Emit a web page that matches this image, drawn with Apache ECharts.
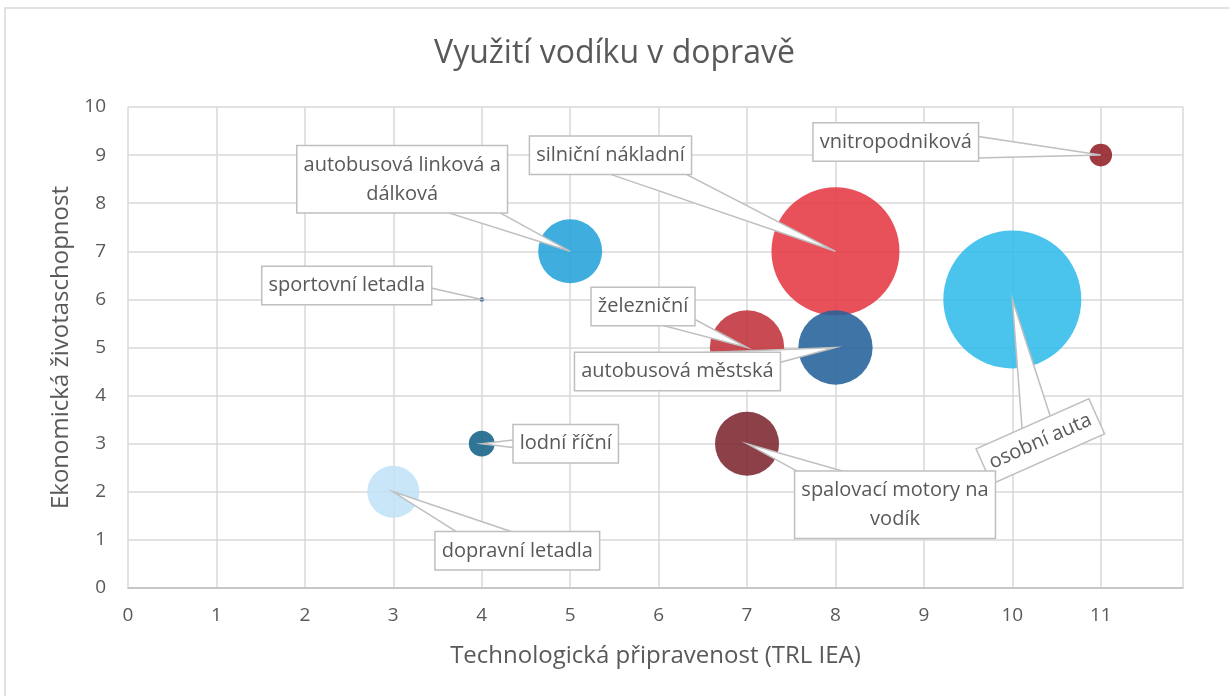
<!DOCTYPE html>
<html>
<head>
<meta charset="utf-8">
<script src="https://cdn.jsdelivr.net/npm/echarts@6/dist/echarts.min.js"></script>
<style>
  html, body { margin: 0; padding: 0; background: #fff; }
  #chart { width: 1229px; height: 696px; }
</style>
</head>
<body>
<div id="chart"></div>
<script>
  // data
  const categories = [
    'vnitropodniková',
    'osobní auta',
    'silniční nákladní',
    'autobusová linková a\ndálková',
    'sportovní letadla',
    'železniční',
    'autobusová městská',
    'lodní říční',
    'spalovací motory na\nvodík',
    'dopravní letadla'
  ];
  const trl = [11, 10, 8, 5, 4, 7, 8, 4, 7, 3];          // x
  const viability = [9, 6, 7, 7, 6, 5, 5, 3, 3, 2];     // y
  const bubbleSize = [2.7, 100, 86, 21.5, 0.1, 29, 29, 3.5, 21.5, 14.2];

  // styles
  const colors = ['#911f26', '#31bce9', '#e53843', '#24a3db', '#24507e',
                  '#c0323c', '#24619a', '#136188', '#7c262f', '#c1e3f7'];
  // callout box centre, offset from the bubble centre (px)
  const labelOffset = [
    [-205, -13], [28, 142], [-225, -96], [-168, -72], [-135, -14],
    [-104, -41], [-158, 24], [84, 0], [148, 61], [124, 59]
  ];
  const labelRotate = [0, 24, 0, 0, 0, 0, 0, 0, 0, 0];

  const textColor = '#595959';
  const boxBorder = '#bfbfbf';
  const font = '"Open Sans", "DejaVu Sans", sans-serif';

  const bubbleData = categories.map((name, i) => ({
    name: name,
    value: [trl[i], viability[i], bubbleSize[i]],
    itemStyle: { color: colors[i] }
  }));
  const calloutData = categories.map((name, i) => [trl[i], viability[i]]);

  const chart = echarts.init(document.getElementById('chart'));

  chart.setOption({
    animation: false,
    backgroundColor: '#fff',
    textStyle: { fontFamily: font },
    title: {
      text: 'Využití vodíku v dopravě',
      left: 'center',
      top: 33,
      textStyle: { color: textColor, fontSize: 32, fontWeight: 'normal', fontFamily: font }
    },
    graphic: [{
      type: 'rect',
      shape: { x: 5, y: 8, width: 1240, height: 700 },
      style: { fill: 'none', stroke: '#d9d9d9', lineWidth: 1.5 },
      silent: true
    }],
    grid: { left: 128, right: 46, top: 107, bottom: 108 },
    xAxis: {
      type: 'value',
      min: 0,
      max: 11.93,
      interval: 1,
      name: 'Technologická připravenost (TRL IEA)',
      nameLocation: 'middle',
      nameGap: 56,
      nameTextStyle: { color: textColor, fontSize: 24 },
      axisLine: { show: true, lineStyle: { color: '#bfbfbf', width: 1.5 } },
      axisTick: { show: false },
      axisLabel: { color: textColor, fontSize: 19, margin: 18, showMaxLabel: false },
      splitLine: { show: true, lineStyle: { color: '#d9d9d9', width: 1.5 } }
    },
    yAxis: {
      type: 'value',
      min: 0,
      max: 10,
      interval: 1,
      name: 'Ekonomická životaschopnost',
      nameLocation: 'middle',
      nameGap: 54,
      nameTextStyle: { color: textColor, fontSize: 24 },
      axisLine: { show: false },
      axisTick: { show: false },
      axisLabel: { color: textColor, fontSize: 19, margin: 22 },
      splitLine: { show: true, lineStyle: { color: '#d9d9d9', width: 1.5 } }
    },
    series: [
      {
        type: 'scatter',
        data: bubbleData,
        symbolSize: d => 2 * 69 * Math.sqrt(d[2] / 100),
        itemStyle: { opacity: 0.88 },
        z: 2
      },
      {
        // callout boxes with wedge pointing at the bubble centre
        type: 'custom',
        data: calloutData,
        clip: false,
        silent: true,
        z: 5,
        renderItem: (params, api) => {
          const i = params.dataIndex;
          const p = api.coord([api.value(0), api.value(1)]);
          const bx = p[0] + labelOffset[i][0];
          const by = p[1] + labelOffset[i][1];
          const dx = bx - p[0];
          const dy = by - p[1];
          const len = Math.sqrt(dx * dx + dy * dy);
          const hw = Math.min(18, len * 0.12);
          const nx = -dy / len * hw;
          const ny = dx / len * hw;
          return {
            type: 'group',
            children: [
              {
                type: 'polygon',
                shape: { points: [p, [bx + nx, by + ny], [bx - nx, by - ny]] },
                style: { fill: '#fff', stroke: boxBorder, lineWidth: 1.5 }
              },
              {
                type: 'text',
                x: bx,
                y: by,
                rotation: labelRotate[i] * Math.PI / 180,
                style: {
                  text: categories[i],
                  align: 'center',
                  verticalAlign: 'middle',
                  fill: textColor,
                  fontSize: 20,
                  fontFamily: font,
                  lineHeight: 29,
                  backgroundColor: '#fff',
                  borderColor: boxBorder,
                  borderWidth: 1.5,
                  padding: [4, 6]
                }
              }
            ]
          };
        }
      }
    ]
  });
</script>
</body>
</html>
